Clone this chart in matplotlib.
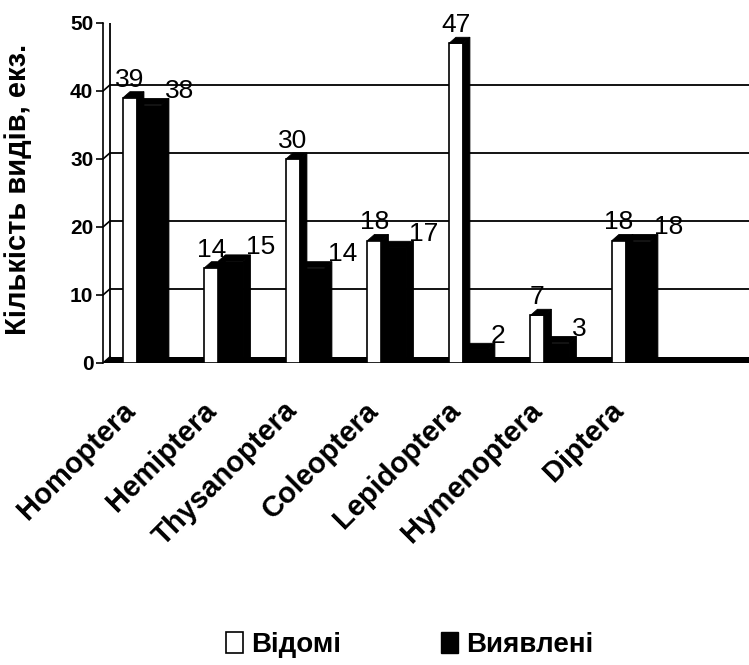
import numpy as np
import matplotlib
matplotlib.use("Agg")
import matplotlib.pyplot as plt

categories = ["Homoptera", "Hemiptera", "Thysanoptera", "Coleoptera",
              "Lepidoptera", "Hymenoptera", "Diptera"]
known = [39, 14, 30, 18, 47, 7, 18]        # Відомі
found = [38, 15, 14, 17, 2, 3, 18]         # Виявлені
yticks = [0, 10, 20, 30, 40, 50]

plt.rcParams["font.family"] = ["Liberation Sans", "DejaVu Sans"]

fig = plt.figure(figsize=(7.49, 6.65), dpi=100)
ax = fig.add_axes([103 / 749, (665 - 363) / 665, 646 / 749, 340 / 665])

# fake 3D geometry, in data units (1 unit on x = one category slot)
px = 1 / 81.5
W_WHITE = 14 * px
W_BLACK = 25 * px
DX = 7 * px
DY = 0.9
X0, X1 = -0.527, 7.40

x = np.arange(len(categories))
left = x - 23 * px


def box3d(xl, w, v, z):
    """black top and right side of a bar whose front face is [xl, xl+w] x [0, v]"""
    xr = xl + w
    ax.fill([xl, xr, xr + DX, xl + DX], [v, v, v + DY, v + DY],
            facecolor="black", edgecolor="black", lw=0.6, zorder=z)
    ax.fill([xr, xr + DX, xr + DX, xr], [0, DY, v + DY, v],
            facecolor="black", edgecolor="black", lw=0.6, zorder=z)


# back wall: gridlines + left wall + connectors to the front axis
for t in yticks:
    ax.plot([X0, X0 + DX], [t, t + DY], color="black", lw=1.2, zorder=1)
    if t > 0:
        ax.plot([X0 + DX, X1], [t + DY, t + DY], color="black", lw=1.3, zorder=1)
ax.plot([X0 + DX, X0 + DX], [DY, 50 + DY], color="black", lw=1.3, zorder=1)

# floor
ax.fill([X0, X1, X1, X0 + DX], [0, 0, DY, DY], color="black", lw=0, zorder=2)

# black bars (Виявлені)
bx = left + W_WHITE
ax.bar(bx, found, width=W_BLACK, align="edge", color="black",
       edgecolor="black", lw=0.6, zorder=3)
for xb, v in zip(bx, found):
    box3d(xb, W_BLACK, v, 3)

# white bars (Відомі)
ax.bar(left, known, width=W_WHITE, align="edge", color="white",
       edgecolor="black", lw=1.2, zorder=4)
for xl, v in zip(left, known):
    box3d(xl, W_WHITE, v, 4)

# value labels
for xl, v in zip(left, known):
    ax.text(xl + W_WHITE / 2, v + 0.9, str(v), ha="center", va="bottom",
            fontsize=19, zorder=5)
for xb, v in zip(bx, found):
    ax.text(xb + W_BLACK + DX - 0.05, v + 2.0, str(v), ha="left", va="center",
            fontsize=19, zorder=5)

ax.set_xlim(X0, X1)
ax.set_ylim(0, 50)
ax.set_yticks(yticks)
ax.set_yticklabels([str(t) for t in yticks], fontsize=15, fontweight="bold")
ax.tick_params(axis="y", length=5, width=1.2, pad=2)
ax.set_xticks(x - 0.07)
ax.set_xticklabels(categories, rotation=45, ha="right", va="top",
                   fontsize=21, fontweight="bold")
ax.tick_params(axis="x", length=0, pad=24)
for s in ("top", "right", "bottom"):
    ax.spines[s].set_visible(False)
ax.spines["left"].set_linewidth(1.2)
ax.set_ylabel("Кількість видів, екз.", fontsize=21, fontweight="bold")
ax.yaxis.set_label_coords(-0.11, 0.51)

handles = [plt.Rectangle((0, 0), 1, 1, facecolor="white", edgecolor="black", lw=1.2),
           plt.Rectangle((0, 0), 1, 1, facecolor="black", edgecolor="black")]
fig.legend(handles, ["Відомі", "Виявлені"], loc="center", ncol=2,
           bbox_to_anchor=(0.547, 0.03), frameon=False, handlelength=0.6,
           handleheight=0.8, handletextpad=0.3, columnspacing=3.6,
           prop={"size": 20, "weight": "bold"})

fig.savefig("out.png", dpi=100)
